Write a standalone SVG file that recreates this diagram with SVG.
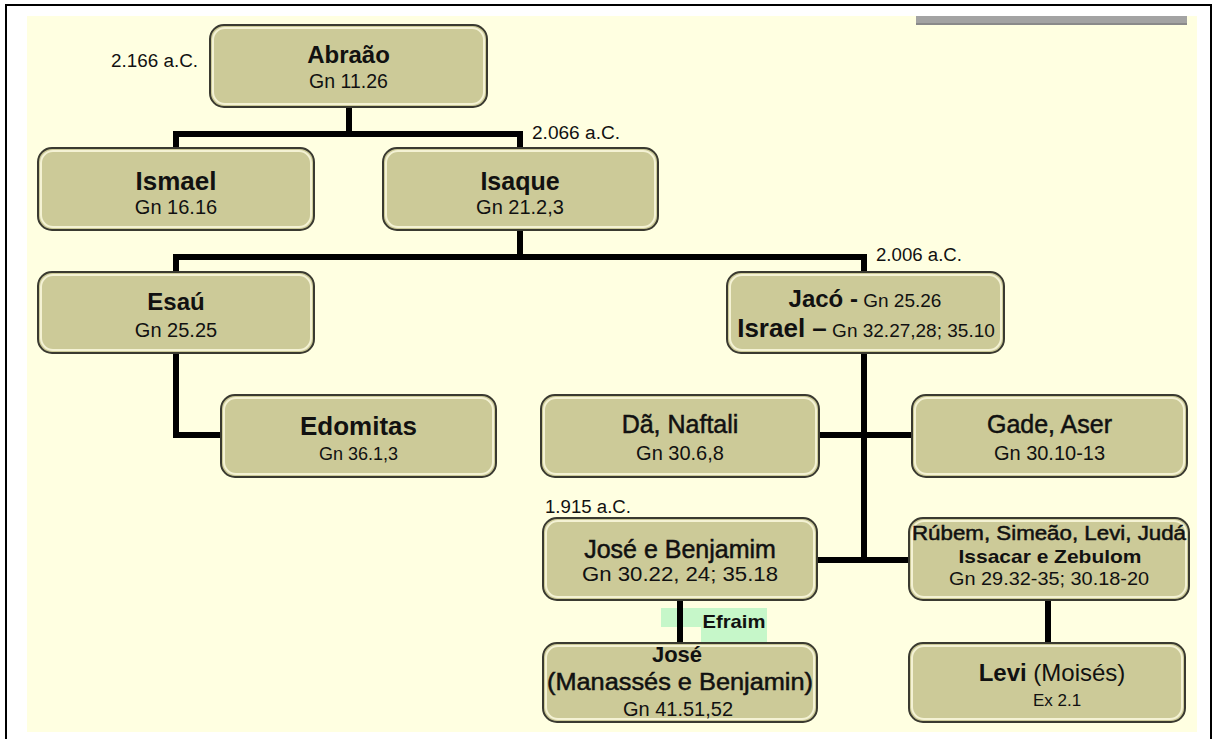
<svg xmlns="http://www.w3.org/2000/svg" width="1217" height="739" viewBox="0 0 1217 739">
<style>
.box{fill:#CCCA98;stroke:#3a3a30;stroke-width:2}
.hl{fill:none;stroke:#F4F2D4;stroke-width:2}
.t{font-family:"Liberation Sans",Arial,sans-serif;fill:#111;text-anchor:middle}
.b{font-weight:bold}
.m{stroke:#111;stroke-width:0.5}
.date{font-family:"Liberation Sans",Arial,sans-serif;fill:#111;font-size:18px}
.con{fill:none;stroke:#000;stroke-width:6;stroke-linejoin:miter}
</style>
<rect x="0" y="0" width="1217" height="739" fill="#fff"/>
<rect x="6" y="5" width="1205" height="770" fill="#fff" stroke="#000" stroke-width="2"/>
<rect x="27" y="16" width="1170" height="716" fill="#FFFFE1"/>
<rect x="916" y="16" width="271" height="9" fill="#A3A3A3"/>
<rect x="916" y="23" width="271" height="2" fill="#8a8a8a"/>

<text class="date" x="111" y="67" textLength="87" lengthAdjust="spacingAndGlyphs">2.166 a.C.</text>
<text class="date" x="532" y="139" textLength="88" lengthAdjust="spacingAndGlyphs">2.066 a.C.</text>
<text class="date" x="876" y="261" textLength="86" lengthAdjust="spacingAndGlyphs">2.006 a.C.</text>
<text class="date" x="545" y="513" textLength="86" lengthAdjust="spacingAndGlyphs">1.915 a.C.</text>

<g id="efraim-highlight">
<rect x="661" y="608" width="40" height="19" fill="#C6F7C9"/>
<rect x="701" y="608" width="66" height="37" fill="#C6F7C9"/>
</g>

<g id="connectors">
<path class="con" d="M349,107 V134"/>
<path class="con" d="M176,148 V134 H520 V148"/>
<path class="con" d="M520,230 V257"/>
<path class="con" d="M176,272 V257 H864 V272"/>
<path class="con" d="M176,353 V435 H221"/>
<path class="con" d="M864,353 V560"/>
<path class="con" d="M819,435 H912"/>
<path class="con" d="M817,560 H909"/>
<path class="con" d="M680,600 V643"/>
<path class="con" d="M1048,600 V643"/>
</g>

<text class="t b" x="734" y="628" font-size="19" textLength="63" lengthAdjust="spacingAndGlyphs">Efraim</text>

<g id="abraao">
<rect class="box" x="210" y="25" width="277" height="82" rx="14"/>
<rect class="hl" x="213" y="28" width="271" height="76" rx="12"/>
<text class="t b" x="348.5" y="63" font-size="24">Abraão</text>
<text class="t" x="348.5" y="88" font-size="19.5">Gn 11.26</text>
</g>

<g id="ismael">
<rect class="box" x="38" y="148" width="276" height="82" rx="14"/>
<rect class="hl" x="41" y="151" width="270" height="76" rx="12"/>
<text class="t b" x="176" y="190" font-size="26">Ismael</text>
<text class="t" x="176" y="214" font-size="20">Gn 16.16</text>
</g>

<g id="isaque">
<rect class="box" x="383" y="148" width="275" height="82" rx="14"/>
<rect class="hl" x="386" y="151" width="269" height="76" rx="12"/>
<text class="t b" x="520" y="190" font-size="25">Isaque</text>
<text class="t" x="520" y="214" font-size="20">Gn 21.2,3</text>
</g>

<g id="esau">
<rect class="box" x="38" y="272" width="276" height="81" rx="14"/>
<rect class="hl" x="41" y="275" width="270" height="75" rx="12"/>
<text class="t b" x="176" y="310" font-size="24">Esaú</text>
<text class="t" x="176" y="337" font-size="20">Gn 25.25</text>
</g>

<g id="jaco">
<rect class="box" x="727" y="272" width="277" height="81" rx="14"/>
<rect class="hl" x="730" y="275" width="271" height="75" rx="12"/>
<text class="t" x="865" y="307"><tspan class="b" font-size="24">Jacó -</tspan><tspan font-size="19"> Gn 25.26</tspan></text>
<text class="t" x="866" y="337"><tspan class="b" font-size="26">Israel –</tspan><tspan font-size="19"> Gn 32.27,28; 35.10</tspan></text>
</g>

<g id="edomitas">
<rect class="box" x="221" y="395" width="275" height="82" rx="14"/>
<rect class="hl" x="224" y="398" width="269" height="76" rx="12"/>
<text class="t b" x="358.5" y="435" font-size="26">Edomitas</text>
<text class="t" x="358.5" y="460" font-size="18">Gn 36.1,3</text>
</g>

<g id="da-naftali">
<rect class="box" x="541" y="395" width="278" height="82" rx="14"/>
<rect class="hl" x="544" y="398" width="272" height="76" rx="12"/>
<text class="t m" x="680" y="433" font-size="25">Dã, Naftali</text>
<text class="t" x="680" y="460" font-size="20">Gn 30.6,8</text>
</g>

<g id="gade-aser">
<rect class="box" x="912" y="395" width="275" height="82" rx="14"/>
<rect class="hl" x="915" y="398" width="269" height="76" rx="12"/>
<text class="t m" x="1049.5" y="433" font-size="25">Gade, Aser</text>
<text class="t" x="1049.5" y="460" font-size="20">Gn 30.10-13</text>
</g>

<g id="jose-benjamim">
<rect class="box" x="543" y="518" width="274" height="82" rx="14"/>
<rect class="hl" x="546" y="521" width="268" height="76" rx="12"/>
<text class="t m" x="680" y="558" font-size="25">José e Benjamim</text>
<text class="t" x="680" y="581" font-size="20" textLength="196" lengthAdjust="spacingAndGlyphs">Gn 30.22, 24; 35.18</text>
</g>

<g id="rubem">
<rect class="box" x="909" y="518" width="280" height="82" rx="14"/>
<rect class="hl" x="912" y="521" width="274" height="76" rx="12"/>
<text class="t m" x="1049" y="540" font-size="20" textLength="274" lengthAdjust="spacingAndGlyphs">Rúbem, Simeão, Levi, Judá</text>
<text class="t b" x="1050" y="563" font-size="19" textLength="183" lengthAdjust="spacingAndGlyphs">Issacar e Zebulom</text>
<text class="t" x="1049" y="585" font-size="18" textLength="200" lengthAdjust="spacingAndGlyphs">Gn 29.32-35; 30.18-20</text>
</g>

<g id="jose-manasses">
<rect class="box" x="543" y="643" width="274" height="79" rx="14"/>
<rect class="hl" x="546" y="646" width="268" height="73" rx="12"/>
<text class="t b" x="677" y="662" font-size="22">José</text>
<text class="t m" x="680" y="690" font-size="23" textLength="266" lengthAdjust="spacingAndGlyphs">(Manassés e Benjamin)</text>
<text class="t" x="678" y="716" font-size="20">Gn 41.51,52</text>
</g>

<g id="levi">
<rect class="box" x="909" y="643" width="276" height="79" rx="14"/>
<rect class="hl" x="912" y="646" width="270" height="73" rx="12"/>
<text class="t" x="1052" y="681" font-size="24"><tspan class="b">Levi</tspan> (Moisés)</text>
<text class="t" x="1057" y="706" font-size="17">Ex 2.1</text>
</g>
</svg>
